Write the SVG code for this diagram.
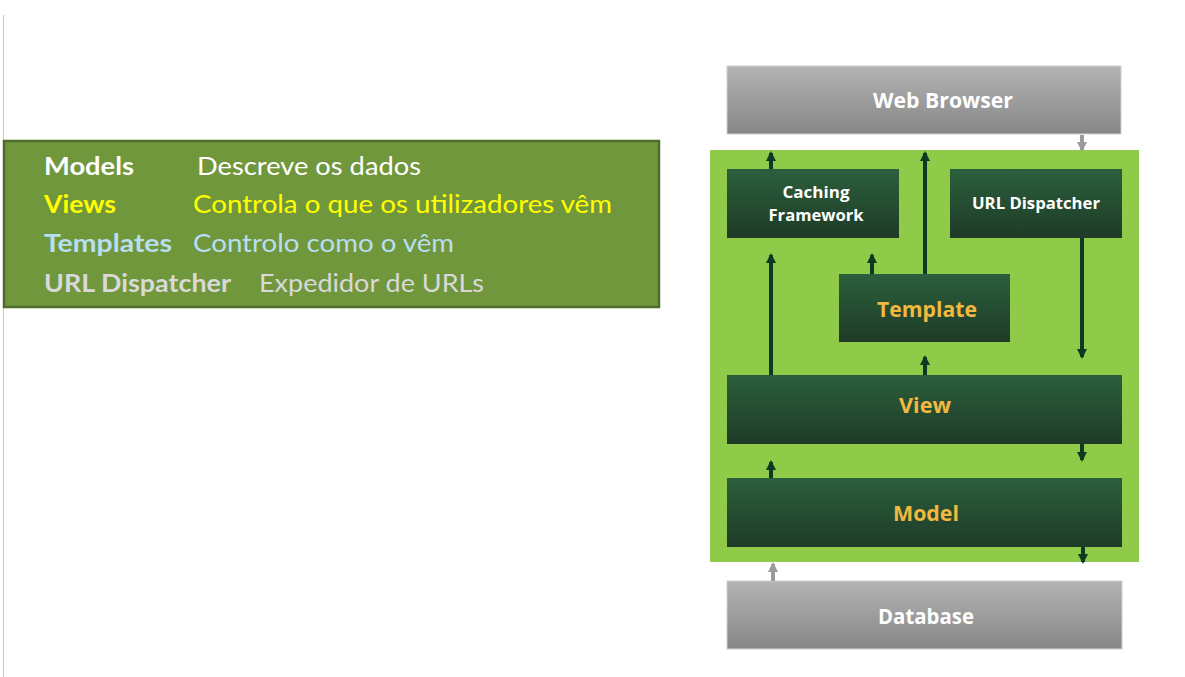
<svg xmlns="http://www.w3.org/2000/svg" width="1185" height="677" viewBox="0 0 1185 677">
<defs>
<linearGradient id="gGreen" x1="0" y1="0" x2="0" y2="1"><stop offset="0" stop-color="#2b5f3c"/><stop offset="1" stop-color="#1e3b27"/></linearGradient>
<linearGradient id="gGray" x1="0" y1="0" x2="0" y2="1"><stop offset="0" stop-color="#b3b3b3"/><stop offset="1" stop-color="#878787"/></linearGradient>
<marker id="ah" viewBox="0 0 10 10" refX="8" refY="5" markerWidth="10" markerHeight="10" markerUnits="userSpaceOnUse" orient="auto"><path d="M0,0 L10,5 L0,10 Z" fill="#0c3a22"/></marker>
<marker id="ahg" viewBox="0 0 10 10" refX="8" refY="5" markerWidth="10" markerHeight="10" markerUnits="userSpaceOnUse" orient="auto"><path d="M0,0 L10,5 L0,10 Z" fill="#9a9a9a"/></marker>
</defs>
<style>
.leg{font-family:Lato,"Open Sans","Liberation Sans",sans-serif;font-size:25px}
.b{font-weight:bold}
.box{fill:url(#gGreen)}
.gbox{fill:url(#gGray);stroke:#d0d0d0;stroke-width:1}
.lbl{font-family:"Open Sans","Liberation Sans",sans-serif;font-weight:bold;text-anchor:middle;fill:#ffffff}
.or{fill:#f2b83f}
.con{stroke:#0c3a22;stroke-width:4;fill:none;marker-end:url(#ah)}
.cong{stroke:#9a9a9a;stroke-width:4;fill:none;marker-end:url(#ahg)}
</style>
<rect width="1185" height="677" fill="#ffffff"/>
<line x1="3.5" y1="15" x2="3.5" y2="677" stroke="#c8c8c8" stroke-width="1"/>

<g id="legend">
<rect x="4" y="141" width="655" height="166" fill="#71973d" stroke="#4f6b2a" stroke-width="2.5"/>
<text class="leg b" x="44" y="175" fill="#ffffff" textLength="90" lengthAdjust="spacingAndGlyphs">Models</text>
<text class="leg" x="197" y="175" fill="#ffffff" textLength="224" lengthAdjust="spacingAndGlyphs">Descreve os dados</text>
<text class="leg b" x="44" y="213" fill="#ffff00" textLength="72" lengthAdjust="spacingAndGlyphs">Views</text>
<text class="leg" x="193" y="213" fill="#ffff00" textLength="419" lengthAdjust="spacingAndGlyphs">Controla o que os utilizadores vêm</text>
<text class="leg b" x="44" y="252" fill="#b8def2" textLength="128" lengthAdjust="spacingAndGlyphs">Templates</text>
<text class="leg" x="193" y="252" fill="#b8def2" textLength="261" lengthAdjust="spacingAndGlyphs">Controlo como o vêm</text>
<text class="leg b" x="44" y="292" fill="#d9d9d9" textLength="187" lengthAdjust="spacingAndGlyphs">URL Dispatcher</text>
<text class="leg" x="259" y="292" fill="#d9d9d9" textLength="225" lengthAdjust="spacingAndGlyphs">Expedidor de URLs</text>
</g>

<g id="framework">
<rect x="710" y="150" width="429" height="412" fill="#8fcb48"/>
</g>

<g id="web-browser">
<rect class="gbox" x="727" y="66" width="394" height="68"/>
<text class="lbl" x="943" y="108" font-size="22" textLength="140" lengthAdjust="spacingAndGlyphs">Web Browser</text>
</g>

<g id="caching">
<rect class="box" x="727" y="169" width="172" height="69"/>
<text class="lbl" x="816" y="198" font-size="16.5" textLength="67" lengthAdjust="spacingAndGlyphs">Caching</text>
<text class="lbl" x="816" y="221" font-size="16.5" textLength="95" lengthAdjust="spacingAndGlyphs">Framework</text>
</g>

<g id="url-dispatcher">
<rect class="box" x="950" y="169" width="172" height="69"/>
<text class="lbl" x="1036" y="209" font-size="16.5" textLength="128" lengthAdjust="spacingAndGlyphs">URL Dispatcher</text>
</g>

<g id="template">
<rect class="box" x="839" y="274" width="171" height="68"/>
<text class="lbl or" x="927" y="317" font-size="22" textLength="100" lengthAdjust="spacingAndGlyphs">Template</text>
</g>

<g id="view">
<rect class="box" x="727" y="375" width="395" height="69"/>
<text class="lbl or" x="925" y="413" font-size="22" textLength="52" lengthAdjust="spacingAndGlyphs">View</text>
</g>

<g id="model">
<rect class="box" x="727" y="478" width="395" height="69"/>
<text class="lbl or" x="926" y="521" font-size="22" textLength="66" lengthAdjust="spacingAndGlyphs">Model</text>
</g>

<g id="database">
<rect class="gbox" x="727" y="581" width="395" height="68"/>
<text class="lbl" x="926" y="624" font-size="22" textLength="96" lengthAdjust="spacingAndGlyphs">Database</text>
</g>

<g id="connectors">
<line class="cong" x1="1082" y1="135" x2="1082" y2="150"/>
<line class="con" x1="771" y1="169" x2="771" y2="153"/>
<line class="con" x1="925" y1="274" x2="925" y2="153"/>
<line class="con" x1="1082" y1="238" x2="1082" y2="357"/>
<line class="con" x1="771" y1="375" x2="771" y2="255"/>
<line class="con" x1="872" y1="274" x2="872" y2="255"/>
<line class="con" x1="925" y1="375" x2="925" y2="357"/>
<line class="con" x1="1082" y1="444" x2="1082" y2="460"/>
<line class="con" x1="771" y1="478" x2="771" y2="462"/>
<line class="con" x1="1083" y1="547" x2="1083" y2="562"/>
<line class="cong" x1="773" y1="581" x2="773" y2="564"/>
</g>
</svg>
